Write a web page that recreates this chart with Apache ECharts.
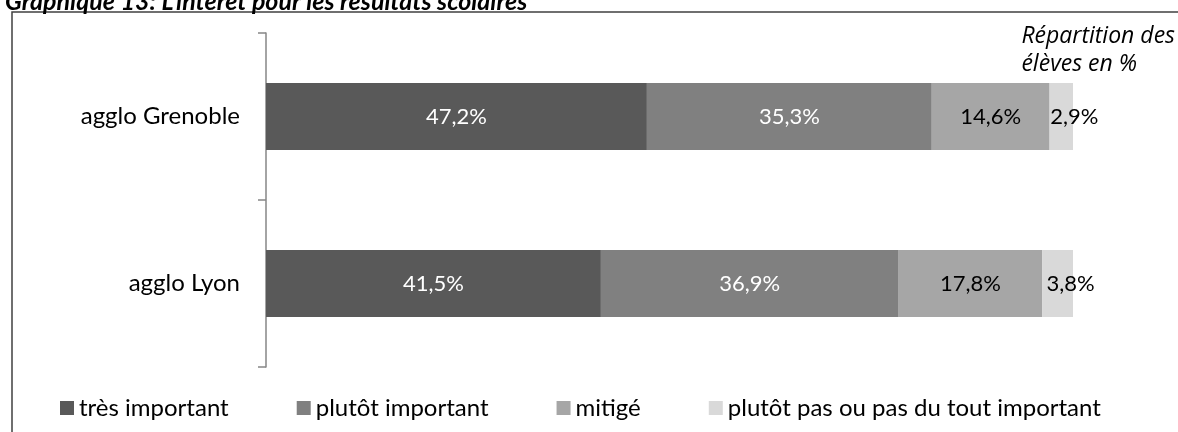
<!DOCTYPE html>
<html><head><meta charset="utf-8">
<script src="https://cdn.jsdelivr.net/npm/echarts@6/dist/echarts.min.js"></script>
<style>html,body{margin:0;padding:0;background:#fff}#c{width:1178px;height:432px}</style>
</head><body><div id="c"></div>
<script>
const categories = ['agglo Grenoble', 'agglo Lyon'];
const seriesNames = ['très important', 'plutôt important', 'mitigé', 'plutôt pas ou pas du tout important'];
const tresImportant = [47.2, 41.5];
const plutotImportant = [35.3, 36.9];
const mitige = [14.6, 17.8];
const plutotPas = [2.9, 3.8];
const colors = ['#595959', '#808080', '#a6a6a6', '#d9d9d9'];
const labelColors = ['#ffffff', '#ffffff', '#000000', '#000000'];
const values = [tresImportant, plutotImportant, mitige, plutotPas];
const FONT = 'Lato';

const chart = echarts.init(document.getElementById('c'));
chart.setOption({
  animation: false,
  title: {
    text: "Graphique 13: L'intérêt pour les résultats scolaires",
    left: 0, top: -16,
    textStyle: {fontFamily: FONT, fontSize: 25, fontWeight: 'bold', fontStyle: 'italic', color: '#000'}
  },
  graphic: [
    {type: 'rect', shape: {x: 12, y: 12, width: 1180, height: 440}, style: {fill: 'none', stroke: '#404040', lineWidth: 1.5}, silent: true},
    {type: 'text', right: 3, top: 22, style: {text: 'Répartition des\nélèves en %', align: 'right', fontFamily: 'Open Sans', fontSize: 23, fontStyle: 'italic', lineHeight: 28, fill: '#000'}}
  ],
  legend: {
    bottom: 7, left: 55,
    itemWidth: 14, itemHeight: 14, itemGap: 68,
    icon: 'rect',
    textStyle: {fontFamily: FONT, fontSize: 24, color: '#000'},
    data: seriesNames
  },
  grid: {left: 266, right: 105, top: 33, bottom: 65},
  xAxis: {type: 'value', min: 0, max: 100, show: false},
  yAxis: {
    type: 'category', data: categories, inverse: true,
    axisLine: {lineStyle: {color: '#868686', width: 1.5}},
    axisTick: {show: true, alignWithLabel: false, length: 8, lineStyle: {color: '#868686', width: 1.5}},
    axisLabel: {fontFamily: FONT, fontSize: 24, color: '#000', margin: 26}
  },
  series: seriesNames.map((n, i) => ({
    name: n, type: 'bar', stack: 'total', barCategoryGap: '60%',
    data: values[i],
    itemStyle: {color: colors[i]},
    label: {
      show: true, position: 'inside',
      offset: i === 3 ? [13, 0] : [0, 0],
      color: labelColors[i], fontFamily: FONT, fontSize: 22,
      formatter: p => p.value.toFixed(1).replace('.', ',') + '%'
    }
  }))
});
</script></body></html>
